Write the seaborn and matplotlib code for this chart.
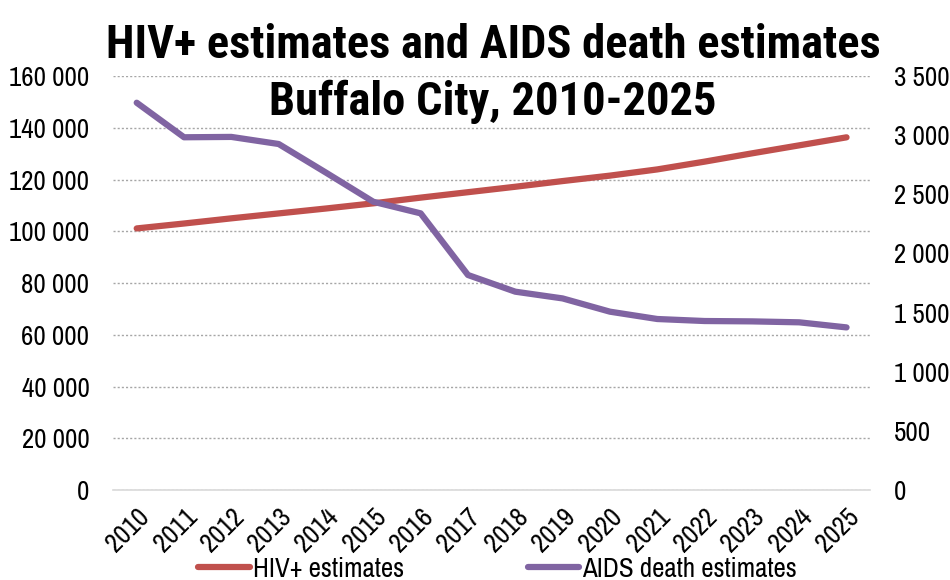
import matplotlib

matplotlib.use("Agg")

import matplotlib.pyplot as plt
import pandas as pd
import seaborn as sns
from matplotlib import font_manager
from matplotlib.ticker import FuncFormatter, MultipleLocator


YEARS = [str(y) for y in range(2010, 2026)]
HIV_ESTIMATES = [101100, 103000, 105000, 106900, 108800, 110800, 113000, 115100,
                 117200, 119400, 121500, 123900, 126900, 130100, 133200, 136300]
AIDS_DEATHS = [3274, 2982, 2985, 2925, 2683, 2437, 2339, 1818,
               1677, 1620, 1508, 1446, 1429, 1426, 1418, 1375]

TITLE_LINES = ["HIV+ estimates and AIDS death estimates", "Buffalo City, 2010-2025"]
HIV_LABEL = "HIV+ estimates"
AIDS_LABEL = "AIDS death estimates"

RED = "#C0504D"
PURPLE = "#8064A2"
GRID = "#A6A6A6"
AXIS = "#D9D9D9"

# narrow fonts first (the original uses Arial Narrow); factor = size scale vs Arial Narrow
FONT_CHOICES = [
    ("Liberation Sans Narrow", 1.0),
    ("Arial Narrow", 1.0),
    ("Archivo Narrow", 0.97),
    ("Roboto Condensed", 0.95),
    ("Liberation Sans", 0.82),
]
TITLE_CHOICES = [
    ("Liberation Sans Narrow", 1.0),
    ("Arial Narrow", 1.0),
    ("Roboto Condensed", 0.985),
    ("Archivo Narrow", 0.97),
    ("Asap Condensed", 0.97),
    ("Barlow Condensed", 1.05),
    ("Liberation Sans", 0.76),
]


def space_thousands(v, _pos=None):
    return f"{int(round(v)):,}".replace(",", " ")


def pick_font(choices, bold=False):
    fonts = font_manager.fontManager.ttflist
    for name, factor in choices:
        ok = [f for f in fonts if f.name == name and (not bold or (isinstance(f.weight, int) and f.weight >= 700) or f.weight == "bold")]
        if ok:
            return name, factor
    return "DejaVu Sans", 0.8


def main() -> None:
    sns.set_theme(style="white")
    family, k = pick_font(FONT_CHOICES)
    title_family, kt = pick_font(TITLE_CHOICES, bold=True)
    plt.rcParams["font.family"] = [family, "DejaVu Sans"]
    plt.rcParams["text.color"] = "black"

    fs = 20 * k
    df = pd.DataFrame({"year": YEARS, "hiv": HIV_ESTIMATES, "aids": AIDS_DEATHS})
    df["x"] = range(len(df))

    fig = plt.figure(figsize=(9.5, 5.8), dpi=100)
    ax = fig.add_axes([0.119, 0.155, 0.797, 0.714])
    ax2 = ax.twinx()

    sns.lineplot(data=df, x="x", y="hiv", ax=ax, color=RED, linewidth=4.5,
                 label=HIV_LABEL, legend=False, solid_capstyle="round")
    sns.lineplot(data=df, x="x", y="aids", ax=ax2, color=PURPLE, linewidth=4.5,
                 label=AIDS_LABEL, legend=False, solid_capstyle="round")

    # left axis
    ax.set_ylim(0, 160000)
    ax.yaxis.set_major_locator(MultipleLocator(20000))
    ax.yaxis.set_major_formatter(FuncFormatter(space_thousands))
    ax.grid(axis="y", color=GRID, linestyle=(0, (1.5, 1.5)), linewidth=1.0)
    ax.set_axisbelow(True)

    # right axis
    ax2.set_ylim(0, 3500)
    ax2.yaxis.set_major_locator(MultipleLocator(500))
    ax2.yaxis.set_major_formatter(FuncFormatter(space_thousands))
    ax2.grid(False)

    # category x axis, ticks between categories
    ax.set_xlim(-0.5, len(YEARS) - 0.5)
    ax.set_xticks(range(len(YEARS)))
    ax.set_xticklabels(YEARS, rotation=45, ha="right", rotation_mode="anchor")
    ax.set_xticks([i - 0.5 for i in range(len(YEARS) + 1)], minor=True)
    ax.tick_params(axis="x", which="major", length=0, pad=10, labelsize=fs, colors="black")
    ax.tick_params(axis="x", which="minor", length=8, width=1.2, color=AXIS, direction="out")
    ax.tick_params(axis="y", length=0, pad=17, labelsize=fs, colors="black")
    ax2.tick_params(axis="y", length=0, pad=17, labelsize=fs, colors="black")
    ax.set_xlabel("")
    ax.set_ylabel("")
    ax2.set_ylabel("")

    for a in (ax, ax2):
        for side in ("top", "left", "right", "bottom"):
            a.spines[side].set_visible(False)
    ax.spines["bottom"].set_visible(True)
    ax.spines["bottom"].set_color(AXIS)
    ax.spines["bottom"].set_linewidth(1.2)

    # two-line title overlapping the top of the plot area
    for line, y in zip(TITLE_LINES, [0.900, 0.802]):
        fig.text(0.519, y, line, ha="center", va="baseline", fontsize=34 * kt,
                 fontweight="bold", family=[title_family, "DejaVu Sans"])

    handles = ax.get_lines()[:1] + ax2.get_lines()[:1]
    fig.legend(handles, [HIV_LABEL, AIDS_LABEL], loc="lower center", bbox_to_anchor=(0.524, -0.045),
               ncol=2, frameon=False, fontsize=fs, handlelength=1.9, handletextpad=0.12,
               columnspacing=4.6)

    fig.savefig("out.png", dpi=100)
    plt.close(fig)


if __name__ == "__main__":
    main()
